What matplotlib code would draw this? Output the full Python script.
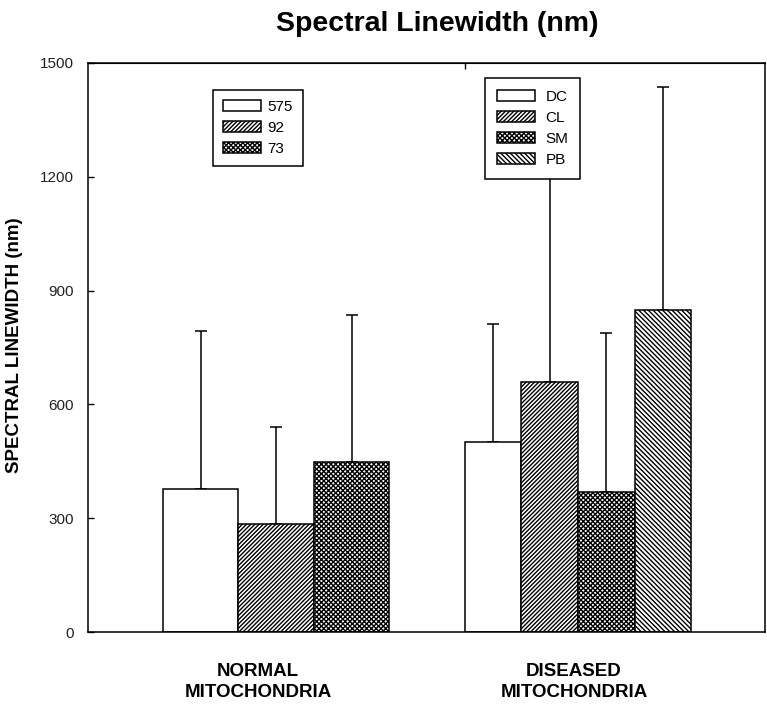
import matplotlib
matplotlib.use("Agg")
import matplotlib.pyplot as plt

plt.rcParams['font.family'] = ['Liberation Sans', 'DejaVu Sans']
plt.rcParams['hatch.linewidth'] = 1.0

# data
groups = ['NORMAL\nMITOCHONDRIA', 'DISEASED\nMITOCHONDRIA']

normal_labels = ['575', '92', '73']
normal_means = [378, 285, 447]
normal_err = [416, 255, 389]

diseased_labels = ['DC', 'CL', 'SM', 'PB']
diseased_means = [500, 659, 369, 848]
diseased_err = [313, 561, 419, 589]

yticks = [0, 300, 600, 900, 1200, 1500]

normal_hatch = ['', '////////', 'xxxxxxx']
diseased_hatch = ['', '////////', 'xxxxxxx', '\\\\\\\\\\\\\\']

W, H = 767, 719
fig = plt.figure(figsize=(W / 100, H / 100), dpi=100)
ax = fig.add_axes([88 / W, 1 - 632 / H, 677 / W, 569 / H])

group_x = [1, 2]
group_w = 0.75


def draw_group(center, labels, means, errs, hatches):
    n = len(means)
    bw = group_w / n
    handles = []
    for i in range(n):
        x = center - group_w / 2 + bw * (i + 0.5)
        b = ax.bar(x, means[i], width=bw, color='white', edgecolor='black',
                   linewidth=1.1, hatch=hatches[i], label=labels[i], zorder=2)
        ax.errorbar(x, means[i], yerr=[[0], [errs[i]]], fmt='none',
                    ecolor='black', elinewidth=1.1, capsize=4, capthick=1.1,
                    zorder=1)
        handles.append(b)
    return handles


h1 = draw_group(group_x[0], normal_labels, normal_means, normal_err, normal_hatch)
h2 = draw_group(group_x[1], diseased_labels, diseased_means, diseased_err, diseased_hatch)

ax.set_xlim(1 - 0.6225, 2.619)
ax.set_ylim(0, 1500)
ax.set_yticks(yticks)
ax.set_yticklabels([str(t) for t in yticks], fontsize=11, color='#222222')
ax.tick_params(axis='y', direction='in', length=4, width=1, pad=10)
ax.set_xticks([])
for s in ax.spines.values():
    s.set_linewidth(1.1)

# small tick on top frame at start of the diseased group
top = ax.secondary_xaxis('top')
top.set_xticks([group_x[1] - group_w / 2])
top.set_xticklabels([])
top.tick_params(direction='in', length=4, width=1)

# group labels under the axis
label_shift = [-0.06, -0.013]
for gx, lab, dx in zip(group_x, groups, label_shift):
    ax.text(gx + dx, -0.055, lab, transform=ax.get_xaxis_transform(),
            ha='center', va='top', fontsize=13.5, fontweight='bold',
            linespacing=1.3)

fig.text(437 / W, 1 - 24 / H, 'Spectral Linewidth (nm)', ha='center',
         va='center', fontsize=20.5, fontweight='bold')
fig.text(15 / W, 1 - 345 / H, 'SPECTRAL LINEWIDTH (nm)', rotation=90,
         ha='center', va='center', fontsize=13.5, fontweight='bold')

leg_kw = dict(frameon=True, fancybox=False, edgecolor='black', framealpha=1,
              fontsize=11, handlelength=2.5, handleheight=0.75,
              labelspacing=0.45, borderaxespad=0,
              bbox_transform=fig.transFigure, loc='upper left')
leg1 = ax.legend(handles=h1, bbox_to_anchor=(213 / W, 1 - 90 / H),
                 handletextpad=0.4, borderpad=0.65, **leg_kw)
leg1.get_frame().set_linewidth(1.1)
ax.add_artist(leg1)
leg2 = ax.legend(handles=h2, bbox_to_anchor=(485 / W, 1 - 78 / H),
                 handletextpad=0.65, borderpad=0.8, **leg_kw)
leg2.get_frame().set_linewidth(1.1)

fig.savefig('out.png', dpi=100)
